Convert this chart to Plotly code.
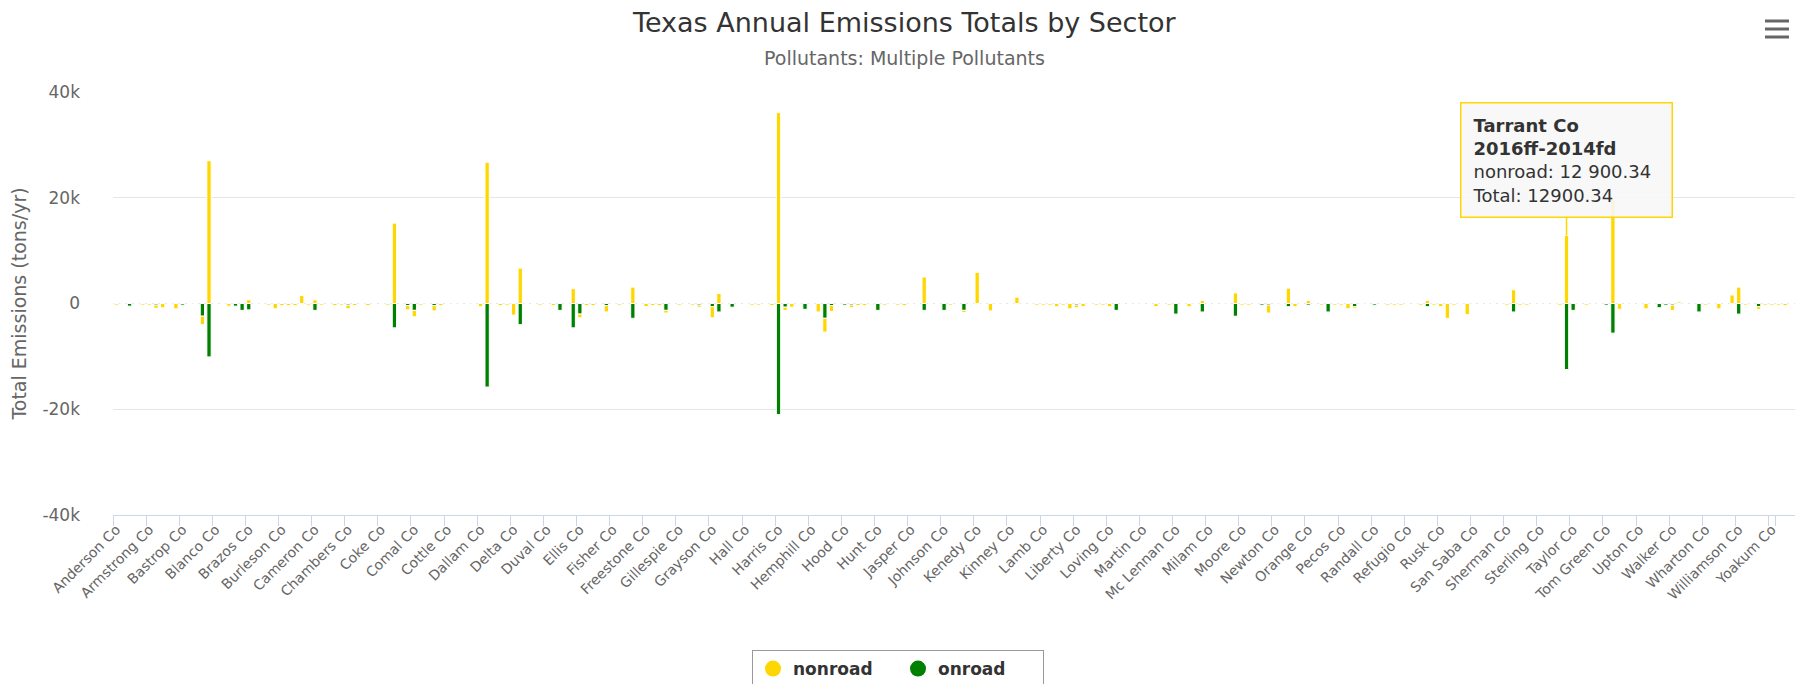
import plotly.graph_objects as go

# Texas counties, alphabetical (as listed by EPA)
counties = [
    "Anderson", "Andrews", "Angelina", "Aransas", "Archer", "Armstrong", "Atascosa", "Austin", "Bailey", "Bandera",
    "Bastrop", "Baylor", "Bee", "Bell", "Bexar", "Blanco", "Borden", "Bosque", "Bowie", "Brazoria",
    "Brazos", "Brewster", "Briscoe", "Brooks", "Brown", "Burleson", "Burnet", "Caldwell", "Calhoun", "Callahan",
    "Cameron", "Camp", "Carson", "Cass", "Castro", "Chambers", "Cherokee", "Childress", "Clay", "Cochran",
    "Coke", "Coleman", "Collin", "Collingsworth", "Colorado", "Comal", "Comanche", "Concho", "Cooke", "Coryell",
    "Cottle", "Crane", "Crockett", "Crosby", "Culberson", "Dallam", "Dallas", "Dawson", "De Witt", "Deaf Smith",
    "Delta", "Denton", "Dickens", "Dimmit", "Donley", "Duval", "Eastland", "Ector", "Edwards", "El Paso",
    "Ellis", "Erath", "Falls", "Fannin", "Fayette", "Fisher", "Floyd", "Foard", "Fort Bend", "Franklin",
    "Freestone", "Frio", "Gaines", "Galveston", "Garza", "Gillespie", "Glasscock", "Goliad", "Gonzales", "Gray",
    "Grayson", "Gregg", "Grimes", "Guadalupe", "Hale", "Hall", "Hamilton", "Hansford", "Hardeman", "Hardin",
    "Harris", "Harrison", "Hartley", "Haskell", "Hays", "Hemphill", "Henderson", "Hidalgo", "Hill", "Hockley",
    "Hood", "Hopkins", "Houston", "Howard", "Hudspeth", "Hunt", "Hutchinson", "Irion", "Jack", "Jackson",
    "Jasper", "Jeff Davis", "Jefferson", "Jim Hogg", "Jim Wells", "Johnson", "Jones", "Karnes", "Kaufman", "Kendall",
    "Kenedy", "Kent", "Kerr", "Kimble", "King", "Kinney", "Kleberg", "Knox", "La Salle", "Lamar",
    "Lamb", "Lampasas", "Lavaca", "Lee", "Leon", "Liberty", "Limestone", "Lipscomb", "Live Oak", "Llano",
    "Loving", "Lubbock", "Lynn", "Madison", "Marion", "Martin", "Mason", "Matagorda", "Maverick", "Mc Culloch",
    "Mc Lennan", "Mc Mullen", "Medina", "Menard", "Midland", "Milam", "Mills", "Mitchell", "Montague", "Montgomery",
    "Moore", "Morris", "Motley", "Nacogdoches", "Navarro", "Newton", "Nolan", "Nueces", "Ochiltree", "Oldham",
    "Orange", "Palo Pinto", "Panola", "Parker", "Parmer", "Pecos", "Polk", "Potter", "Presidio", "Rains",
    "Randall", "Reagan", "Real", "Red River", "Reeves", "Refugio", "Roberts", "Robertson", "Rockwall", "Runnels",
    "Rusk", "Sabine", "San Augustine", "San Jacinto", "San Patricio", "San Saba", "Schleicher", "Scurry", "Shackelford", "Shelby",
    "Sherman", "Smith", "Somervell", "Starr", "Stephens", "Sterling", "Stonewall", "Sutton", "Swisher", "Tarrant",
    "Taylor", "Terrell", "Terry", "Throckmorton", "Titus", "Tom Green", "Travis", "Trinity", "Tyler", "Upshur",
    "Upton", "Uvalde", "Val Verde", "Van Zandt", "Victoria", "Walker", "Waller", "Ward", "Washington", "Webb",
    "Wharton", "Wheeler", "Wichita", "Wilbarger", "Willacy", "Williamson", "Wilson", "Winkler", "Wise", "Wood",
    "Yoakum", "Young", "Zapata", "Zavala",
]
categories = [c + " Co" for c in counties]

# tons/yr, difference 2016ff - 2014fd
nonroad = [
    -300, 0, 0, 0, -300, -300, -600, -800, 0, -1000,
    0, 0, 0, -1600, 27000, 0, 0, -500, 0, 0,
    700, 0, 0, -300, -1000, -400, -400, -400, 1500, -300,
    700, -300, 0, -400, -300, -700, -400, 0, -400, 0,
    0, -300, 15200, 0, -800, -1200, -300, 0, -1000, -400,
    0, 0, 0, 0, 0, -600, 26700, 0, -400, -300,
    -2200, 6700, 0, 0, -300, 0, -400, 0, 0, 2800,
    -700, -400, -400, 0, -1200, 0, -300, 0, 3100, 0,
    -600, -400, -400, -500, 0, -300, 0, -300, -400, 0,
    -2100, 1900, 0, 0, 0, 0, -300, -300, 0, -400,
    36100, -600, -700, 0, 0, 0, -1600, -2600, -1100, 0,
    0, -500, -400, -400, 0, 0, -300, 0, -300, -400,
    0, 0, 5000, 0, 0, 0, -300, 0, -400, 0,
    5900, 0, -1400, 0, 0, 0, 1200, 0, 0, -300,
    -300, -300, -600, -300, -1000, -500, -600, 0, -300, -300,
    -600, 0, 0, 0, 0, 0, 0, -600, 0, -300,
    0, 0, -600, 0, 600, 0, 0, 0, 0, 2000,
    -300, -300, 0, 0, -1500, 0, 0, 2900, -600, 0,
    600, 0, -300, 0, -300, -300, -1000, -300, 0, 0,
    0, 0, -300, -300, -300, 0, 0, -300, 600, -300,
    -600, -2800, -300, 0, -2100, 0, 0, 0, 0, 0,
    -300, 2600, -300, -300, 0, 0, 0, 0, -300, 12900.34,
    0, 0, -300, 0, 0, 0, 19800, -1100, 0, 0,
    0, -1000, 0, 0, 0, -1000, 300, 0, 0, 0,
    -300, 0, -1000, 0, 1600, 3100, -300, 0, -500, -300,
    -300, -300, -400, 0,
]
onroad = [
    0, 0, -500, 0, 0, 0, -300, 0, 0, 0,
    -300, 0, 0, -2400, -10100, 0, 0, 0, -500, -1300,
    -1200, 0, 0, 0, 0, 0, 0, 0, 0, 0,
    -1300, 0, 0, 0, 0, -300, 0, 0, 0, 0,
    0, 0, -4600, 0, -400, -1300, 0, 0, -400, 0,
    0, 0, 0, 0, 0, 0, -15800, 0, 0, 0,
    0, -4000, 0, 0, 0, 0, 0, -1300, 0, -4600,
    -2000, 0, 0, 0, -400, 0, 0, 0, -2800, 0,
    0, 0, 0, -1300, 0, 0, 0, 0, -300, 0,
    -600, -1600, 0, -700, 0, 0, 0, 0, 0, 0,
    -21000, -700, 0, 0, -1100, 0, 0, -2800, -400, 0,
    -300, -300, 0, 0, -200, -1300, 0, 0, 0, 0,
    0, 0, -1300, 0, 0, -1300, 0, 0, -1300, 0,
    0, 0, 0, 0, 0, 0, 0, 0, 0, 0,
    0, 0, 0, 0, 0, -300, 0, 0, 0, 0,
    0, -1300, 0, 0, 0, 0, 0, 0, 0, 0,
    -2000, 0, 0, 0, -1600, 0, 0, 0, 0, -2400,
    0, 0, 0, -300, -300, 0, 0, -600, 0, 0,
    -300, 0, 0, -1600, 0, 0, 0, -600, 0, 0,
    -300, 0, 0, 0, 0, 0, 0, 0, -600, 0,
    0, 0, 0, 0, 0, 0, 0, 0, 0, 0,
    0, -1600, 0, 0, 0, 0, 0, 0, 0, -12500,
    -1300, 0, 0, 0, 0, -300, -5600, 0, 0, 0,
    0, 0, 0, -800, -300, -300, 0, 0, 0, -1600,
    0, 0, 0, 0, 0, -2000, 0, 0, -600, 0,
    0, 0, 0, 0,
]

y_ticks = [-40000, -20000, 0, 20000, 40000]
y_ticktext = ["-40k", "-20k", "0", "20k", "40k"]

YELLOW = "#FFD700"
GREEN = "#008000"
FONT = "DejaVu Sans"
W, H = 1808, 684
OFF = 8  # the html body has an 8px margin, so screen px = figure px + 8
# plot area on screen: x 113..1795, y 92..515
L, T = 113 - OFF, 92 - OFF
R, B = W - (1795 - OFF), H - (515 - OFF)
PW, PH = W - L - R, H - T - B


def px_x(x):
    # screen x -> paper
    return (x - OFF - L) / PW


def px_y(y):
    # screen y -> paper
    return (H - B - (y - OFF)) / PH


fig = go.Figure()
# onroad first so it sits next to zero in the stack (like Highcharts)
fig.add_trace(go.Bar(x=categories, y=onroad, name="onroad", marker_color=GREEN,
                     marker_line=dict(color="white", width=1), showlegend=False))
fig.add_trace(go.Bar(x=categories, y=nonroad, name="nonroad", marker_color=YELLOW,
                     marker_line=dict(color="white", width=1), showlegend=False))
# legend entries with round symbols
for name, col in [("nonroad", YELLOW), ("onroad", GREEN)]:
    fig.add_trace(go.Scatter(x=[None], y=[None], mode="markers", name=f"<b>{name}</b>",
                             marker=dict(size=17, color=col)))

# tooltip shown in the screenshot
tip = categories.index("Tarrant Co")
val = nonroad[tip]
tip_text = (f"<b>{categories[tip]}</b><br><b>2016ff-2014fd</b><br>"
            f"nonroad: {val:,.2f}".replace(",", " ") + f"<br>Total: {val:.2f}")
fig.add_annotation(x=categories[tip], y=val, text=tip_text, showarrow=True,
                   arrowhead=0, arrowwidth=1.5, arrowcolor=YELLOW, ax=0, ay=-75,
                   align="left", bgcolor="rgba(247,247,247,0.9)", bordercolor=YELLOW,
                   borderwidth=1.5, borderpad=11, width=188,
                   font=dict(family=FONT, size=18, color="#333333"))

# title and subtitle as annotations, placed in screen pixels
fig.add_annotation(text="Texas Annual Emissions Totals by Sector", xref="paper", yref="paper",
                   x=px_x(904), y=px_y(22), showarrow=False, xanchor="center", yanchor="middle",
                   font=dict(family=FONT, size=27, color="#333333"))
fig.add_annotation(text="Pollutants: Multiple Pollutants", xref="paper", yref="paper",
                   x=px_x(904), y=px_y(58), showarrow=False, xanchor="center", yanchor="middle",
                   font=dict(family=FONT, size=19, color="#666666"))

# hamburger menu icon
for py in [21, 29, 37]:
    fig.add_shape(type="rect", xref="paper", yref="paper",
                  x0=px_x(1765), x1=px_x(1789), y0=px_y(py + 1.5), y1=px_y(py - 1.5),
                  line=dict(width=0), fillcolor="#666666")

fig.update_layout(
    width=W, height=H,
    margin=dict(l=L, r=R, t=T, b=B, autoexpand=False),
    paper_bgcolor="white", plot_bgcolor="white",
    barmode="relative", bargap=0.35,
    font=dict(family=FONT, color="#666666"),
    xaxis=dict(type="category", tickmode="array", tickvals=categories[::5],
               ticktext=categories[::5], tickangle=-45, tickson="boundaries",
               ticks="outside", ticklen=10, tickcolor="#ccd6eb", automargin=False,
               showline=True, linecolor="#ccd6eb", linewidth=1, showgrid=False,
               tickfont=dict(size=14, color="#666666"),
               range=[-0.5, len(categories) - 0.5]),
    yaxis=dict(range=[-40000, 40000], tickvals=y_ticks, ticktext=y_ticktext,
               gridcolor="#e6e6e6", gridwidth=1, zeroline=False, automargin=False,
               tickfont=dict(size=17, color="#666666"), ticklabelstandoff=32,
               title=dict(text="Total Emissions (tons/yr)", standoff=12,
                          font=dict(size=19, color="#666666"))),
    legend=dict(orientation="h", x=px_x(898), xanchor="center",
                yref="container", y=(H - (650 - OFF)) / H, yanchor="top",
                bordercolor="#999999", borderwidth=1, entrywidth=100,
                font=dict(size=17, color="#333333", family=FONT),
                itemsizing="trace"),
)

fig.write_html("out.html")
